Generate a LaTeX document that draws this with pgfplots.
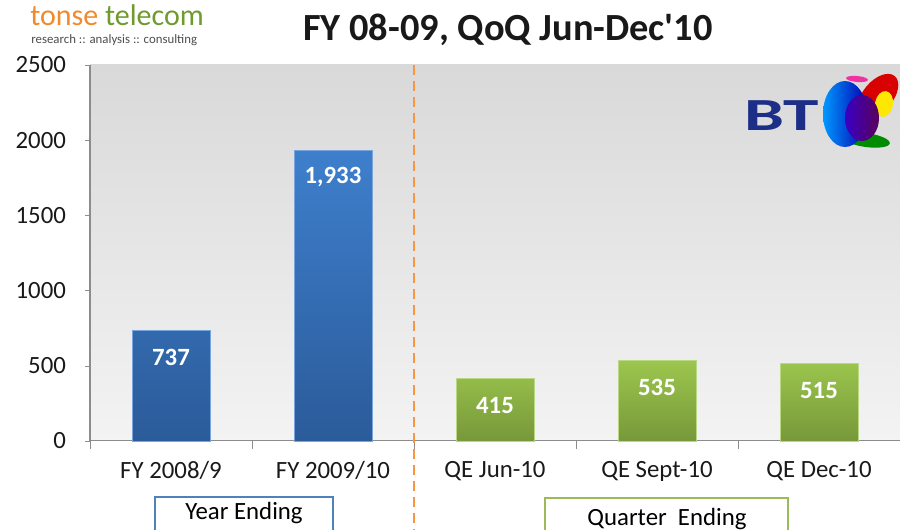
\documentclass[border=0pt]{standalone}
\usepackage{pgfplots}
\pgfplotsset{compat=1.18}
\usepackage{fontspec}
\setmainfont{Carlito}
\newfontfamily\nomap{Carlito}
\definecolor{bluetop}{HTML}{3E7FCC}
\definecolor{bluebot}{HTML}{2B5B9A}
\definecolor{greentop}{HTML}{9CC64E}
\definecolor{greenbot}{HTML}{77983A}
\definecolor{bgtop}{HTML}{D9D9D9}
\definecolor{bgbot}{HTML}{F3F3F3}
\definecolor{axgray}{HTML}{8C8C8C}
\definecolor{dashor}{HTML}{F79646}
\definecolor{boxblue}{HTML}{4F81BD}
\definecolor{boxgreen}{HTML}{9BBB59}
\definecolor{tonseor}{HTML}{F08A2C}
\definecolor{tonsegr}{HTML}{6E9A2E}
\definecolor{btblue}{HTML}{1D2E86}
\begin{document}
\begin{tikzpicture}
\useasboundingbox (0,0) rectangle (450pt,265pt);
\begin{axis}[
  at={(45pt,44.5pt)}, anchor=south west,
  scale only axis, width=405pt, height=188pt,
  xmin=-0.5, xmax=4.5, ymin=0, ymax=2500,
  axis background/.style={top color=bgtop, bottom color=bgbot},
  axis x line=bottom, axis y line=left,
  axis line style={axgray, -, line width=0.5pt},
  xtick={0,1,2,3,4},
  xticklabels={FY 2008/9, FY 2009/10, QE Jun-10, QE Sept-10, QE Dec-10},
  major x tick style={draw=none},
  minor xtick={-0.5,0.5,1.5,2.5,3.5,4.5},
  minor x tick style={axgray},
  minor tick length=4pt,
  ytick={0,500,1000,1500,2000,2500},
  major y tick style={axgray},
  major tick length=2.5pt,
  tick align=outside,
  /pgf/number format/assume math mode=true,
  /pgf/number format/1000 sep={},
  tick label style={font=\fontsize{12.4}{14}\selectfont, text=black!90},
  xticklabel style={yshift=-4pt},
  yticklabel style={xshift=-6pt},
  clip=false,
  nodes near coords,
  point meta=explicit symbolic,
  every node near coord/.append style={anchor=center, yshift=-13.5pt, text=white, font=\bfseries\fontsize{12.4}{14}\selectfont},
]
\addplot[ybar, bar width=39pt, bar shift=0pt, draw=bluetop!70!white, line width=0.4pt, top color=bluetop, bottom color=bluebot]
  coordinates {(0,737) [737] (1,1933) [1,933]};
\addplot[ybar, bar width=39pt, bar shift=0pt, draw=greentop!70!white, line width=0.4pt, top color=greentop, bottom color=greenbot]
  coordinates {(2,415) [415] (3,535) [535] (4,515) [515]};
\end{axis}
\begin{scope}[x=0.5pt,y=-0.5pt,yshift=265pt]
  % dashed separator
  \draw[dashor, line width=1pt, dash pattern=on 5pt off 3pt] (414,65) -- (414,530);
  % title
  \node[font=\nomap\bfseries\fontsize{19.2}{22}\selectfont, text=black!90] at (508,30) {FY 08-09, QoQ Jun-Dec'10};
  % tonse logo
  \node[anchor=base west, inner sep=0pt, font=\fontsize{15}{17}\selectfont] at (30,26) {\textcolor{tonseor}{tonse} \textcolor{tonsegr}{telecom}};
  \node[anchor=base west, inner sep=0pt, font=\fontsize{6.4}{7.5}\selectfont, text=black!70] at (31,44) {research :: analysis :: consulting};
  % boxes
  \draw[boxblue, line width=0.8pt, fill=white] (155,497) rectangle (333,534);
  \node[font=\fontsize{12.4}{14}\selectfont] at (244,513) {Year Ending};
  \draw[boxgreen, line width=0.8pt, fill=white] (545,498) rectangle (788,540);
  \node[font=\fontsize{12.4}{14}\selectfont] at (667,519) {Quarter\ \ Ending};
  % BT logo
  \node[anchor=west, inner sep=0pt, font=\bfseries\fontsize{23}{26}\selectfont, text=btblue, xscale=1.55] at (744,116) {BT};
  \fill[magenta!80] (857,79) ellipse [x radius=11, y radius=3, rotate=-5];
  \fill[red!85!black] (878,96) ellipse [x radius=15, y radius=26, rotate=-40];
  \fill[yellow!90!orange] (884,104) ellipse [x radius=9, y radius=13, rotate=-10];
  \fill[green!55!black] (866,140) ellipse [x radius=24, y radius=7, rotate=-8];
  \shade[left color=cyan!60!blue, right color=blue!70!black] (845,114) ellipse [x radius=22, y radius=33];
  \shade[left color=blue!55!violet, right color=violet!70!black] (862,118) ellipse [x radius=17, y radius=23];
\end{scope}
\end{tikzpicture}
\end{document}
